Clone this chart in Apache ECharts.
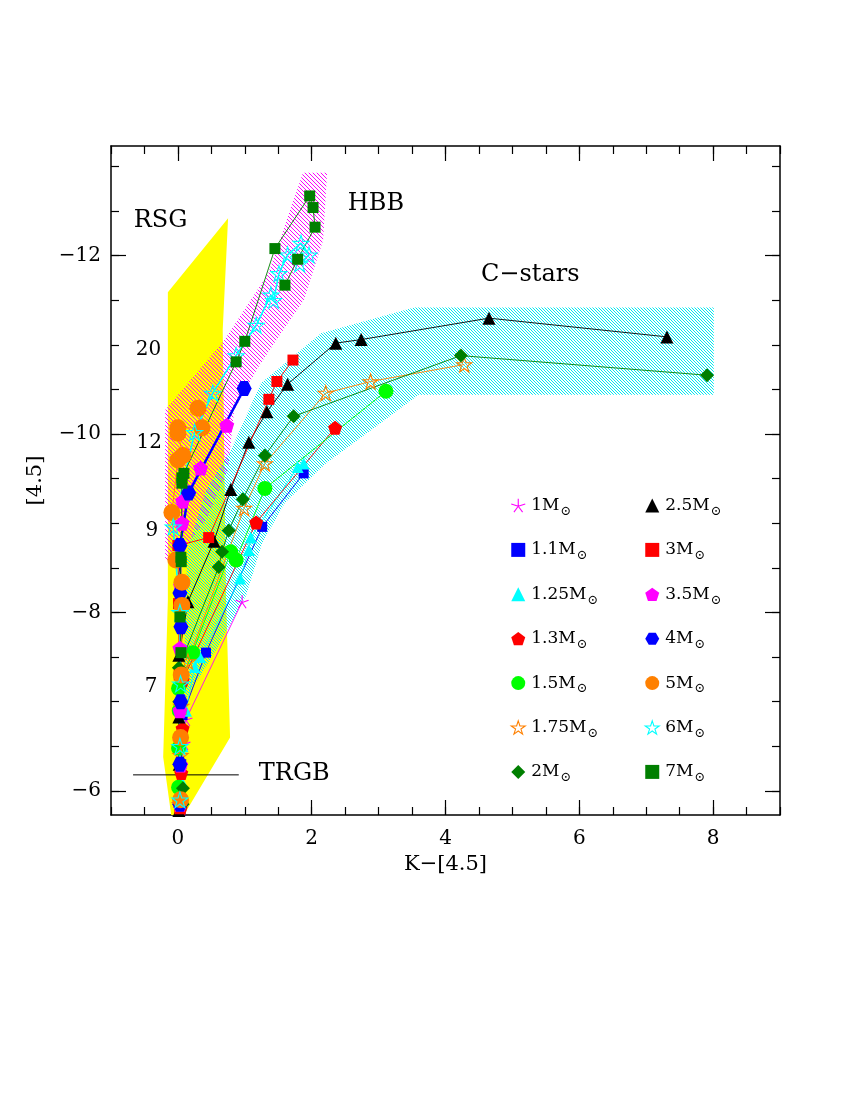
<!DOCTYPE html>
<html>
<head>
<meta charset="utf-8">
<title>[4.5] vs K-[4.5]</title>
<script src="https://cdn.jsdelivr.net/npm/echarts@6.0.0/dist/echarts.min.js"></script>
<style>
  html, body { margin: 0; background: #fff; }
  #chart { width: 850px; height: 1100px; }
</style>
</head>
<body>
<div id="chart"></div>
<script>
// model tracks, each point is [K-[4.5], [4.5]]
const track1 = [[0.03, -5.8], [0.05, -6.2], [0.09, -6.53], [0.12, -6.8], [0.96, -8.12]]
const track11 = [[0.04, -5.78], [0.05, -6.3], [0.07, -6.85], [0.42, -7.55], [1.26, -8.96], [1.88, -9.56]]
const track125 = [[0.05, -5.85], [0.06, -6.1], [0.07, -6.5], [0.12, -6.9], [0.25, -7.39], [0.33, -7.5], [0.93, -8.38], [1.06, -8.7], [1.09, -8.84], [1.79, -9.63], [1.88, -9.67]]
const track13 = [[0.04, -5.8], [0.05, -6.2], [0.07, -6.7], [0.07, -7.24], [1.17, -9.01], [2.35, -10.07]]
const track15 = [[0.01, -6.04], [0.01, -6.48], [0.02, -6.9], [0.01, -7.15], [0.22, -7.55], [0.79, -8.68], [0.87, -8.59], [1.3, -9.39], [3.11, -10.48]]
const track175 = [[0.03, -5.85], [0.04, -6.4], [0.05, -6.95], [0.15, -7.45], [0.99, -9.17], [1.3, -9.67], [2.21, -10.46], [2.88, -10.59], [4.28, -10.78]]
const track2 = [[0.07, -5.85], [0.075, -6.03], [0.03, -6.6], [0.02, -7.0], [0.015, -7.38], [0.61, -8.51], [0.66, -8.68], [0.76, -8.92], [0.97, -9.27], [1.3, -9.76], [1.73, -10.2], [4.23, -10.88], [7.91, -10.66]]
const track25 = [[0.015, -5.78], [0.02, -6.3], [0.015, -6.83], [0.015, -7.52], [0.15, -8.12], [0.54, -8.8], [0.79, -9.38], [1.06, -9.91], [1.33, -10.25], [1.64, -10.56], [2.36, -11.02], [2.74, -11.06], [4.65, -11.3], [7.31, -11.09]]
const track3 = [[0.03, -5.8], [0.03, -6.6], [0.02, -7.3], [0.01, -8.1], [0.0, -8.75], [0.46, -8.84], [1.36, -10.39], [1.48, -10.59], [1.72, -10.83]]
const track35 = [[0.03, -5.85], [0.04, -6.29], [0.03, -6.9], [0.03, -7.6], [0.04, -8.3], [0.06, -9.0], [0.07, -9.25], [0.34, -9.62], [0.73, -10.1]]
const track4 = [[0.03, -5.85], [0.03, -6.3], [0.04, -7.0], [0.045, -7.84], [0.03, -8.22], [0.03, -8.75], [0.16, -9.34], [0.99, -10.51]]
const track5 = [[0.04, -5.9], [0.04, -6.6], [0.05, -7.3], [0.06, -8.08], [0.06, -8.34], [-0.03, -8.59], [-0.09, -9.12], [0.0, -9.71], [0.075, -9.76], [0.0, -10.01], [0.0, -10.07], [0.36, -10.07], [0.3, -10.29]]
const track6 = [[0.03, -5.9], [0.03, -6.5], [0.04, -7.2], [0.03, -8.0], [-0.07, -8.96], [0.25, -10.02], [0.52, -10.46], [0.87, -10.88], [1.17, -11.22], [1.39, -11.56], [1.43, -11.5], [1.51, -11.8], [1.64, -12.01], [1.84, -12.14], [1.96, -12.01], [1.82, -11.91]]
const track7 = [[0.045, -7.55], [0.03, -7.95], [0.045, -8.62], [0.05, -8.57], [0.06, -9.45], [0.06, -9.51], [0.09, -9.56], [0.87, -10.81], [1.0, -11.04], [1.45, -12.08], [1.97, -12.67], [2.02, -12.54], [2.05, -12.32], [1.79, -11.96], [1.6, -11.67]]

const leftLegend = ['1', '1.1', '1.25', '1.3', '1.5', '1.75', '2']
const rightLegend = ['2.5', '3', '3.5', '4', '5', '6', '7']

// shaded regions (polygon vertices in data units)
const rsgRegion = [[-0.15, -11.59], [0.75, -12.42], [0.67, -11.17], [0.72, -8.14], [0.78, -6.6], [0.09, -5.73], [-0.1, -5.73], [-0.22, -6.38], [-0.15, -8.14]]
const hbbRegion = [[1.87, -12.93], [2.23, -12.93], [2.17, -12.17], [1.88, -11.5], [1.54, -11.13], [1.2, -10.75], [0.84, -10.27], [0.75, -9.6], [0.42, -9.04], [-0.03, -8.59], [-0.19, -8.59], [-0.19, -10.27], [0.69, -11.05], [1.35, -11.8]]
const cstarRegion = [[3.53, -11.42], [8.01, -11.42], [8.01, -10.44], [3.6, -10.44], [2.88, -10.04], [2.21, -9.67], [1.6, -9.23], [1.26, -8.78], [1.02, -8.19], [0.57, -7.58], [0.15, -7.07], [0.08, -7.0], [0.11, -8.0], [0.14, -8.7], [0.42, -9.37], [0.79, -9.82], [1.24, -10.57], [2.14, -11.13]]
const trgbLine = [[-0.67, -6.18], [0.91, -6.18]]

const notes = [[-0.66, -12.39, 'RSG'], [2.54, -12.58, 'HBB'], [4.53, -11.79, 'C\u2212stars'], [-0.44, -10.95, '20'], [-0.43, -9.9, '12'], [-0.39, -8.92, '9'], [-0.4, -7.17, '7'], [1.21, -6.19, 'TRGB']]

const xMajor = [0, 2, 4, 6, 8]
const yMajor = [-12, -10, -8, -6]

const FONT = 'DejaVu Serif'
const STAR = 'path://M0,-10L2.25,-3.09L9.51,-3.09L3.63,1.18L5.88,8.09L0,3.82L-5.88,8.09L-3.63,1.18L-9.51,-3.09L-2.25,-3.09Z'
const PENTAGON = 'path://M0,-10L9.51,-3.09L5.88,8.09L-5.88,8.09L-9.51,-3.09Z'
const HEXAGON = 'path://M-10,0L-5,-8.66L5,-8.66L10,0L5,8.66L-5,8.66Z'
const ASTERISK = 'path://M0,0L0,-10M0,0L9.51,-3.09M0,0L5.88,8.09M0,0L-5.88,8.09M0,0L-9.51,-3.09'

const look = {
  '1': { data: track1, symbol: ASTERISK, size: 13, color: '#ff00ff', open: true },
  '1.1': { data: track11, symbol: 'rect', size: 10, color: '#0000ff' },
  '1.25': { data: track125, symbol: 'triangle', size: 12, color: '#00ffff' },
  '1.3': { data: track13, symbol: PENTAGON, size: 14, color: '#ff0000' },
  '1.5': { data: track15, symbol: 'circle', size: 15, color: '#00ff00' },
  '1.75': { data: track175, symbol: STAR, size: 15, color: '#ff8000', open: true },
  '2': { data: track2, symbol: 'diamond', size: 14, color: '#007f00' },
  '2.5': { data: track25, symbol: 'triangle', size: 13, color: '#000000' },
  '3': { data: track3, symbol: 'rect', size: 11, color: '#ff0000' },
  '3.5': { data: track35, symbol: PENTAGON, size: 15, color: '#ff00ff' },
  '4': { data: track4, symbol: HEXAGON, size: 15, color: '#0000ff', width: 2.5 },
  '5': { data: track5, symbol: 'circle', size: 17, color: '#ff8000' },
  '6': { data: track6, symbol: STAR, size: 16, color: '#00ffff', open: true, width: 1.6 },
  '7': { data: track7, symbol: 'rect', size: 11, color: '#007f00' },
}

// diagonal hatch tile used as a pattern fill
function hatch(color, step) {
  const c = document.createElement('canvas')
  c.width = c.height = step
  const g = c.getContext('2d')
  g.fillStyle = color
  for (let i = 0; i < step; i++) g.fillRect(i, i, 1, 1)
  return { image: c, repeat: 'repeat' }
}

const pointStyle = (s) => s.open
  ? { color: 'rgba(255,255,255,0)', borderColor: s.color, borderWidth: 1.1 }
  : { color: s.color, borderWidth: 0 }

const regionSeries = (points, fill, z) => ({
  type: 'custom',
  silent: true,
  z,
  data: [0],
  renderItem: (params, api) => ({
    type: 'polygon',
    shape: { points: points.map((p) => api.coord(p)) },
    style: { fill },
  }),
})

const trackSeries = (name) => {
  const s = look[name]
  return {
    name,
    type: 'line',
    data: s.data,
    z: 10,
    symbol: s.symbol,
    symbolSize: s.size,
    showAllSymbol: true,
    lineStyle: { color: s.color, width: s.width || 0.9 },
    itemStyle: pointStyle(s),
    emphasis: { disabled: true },
  }
}

const legendBlock = (names, left) => ({
  data: names.map((n) => ({ name: n, icon: look[n].symbol, itemStyle: pointStyle(look[n]) })),
  orient: 'vertical',
  left,
  top: 488,
  itemWidth: 14,
  itemHeight: 14,
  itemGap: 19.4,
  selectedMode: false,
  formatter: (n) => `{a|${n}M}{b|\u2299}`,
  textStyle: {
    padding: [0, 0, 0, 1],
    rich: {
      a: { fontFamily: FONT, fontSize: 17, color: '#000', lineHeight: 20, verticalAlign: 'middle' },
      b: { fontFamily: FONT, fontSize: 13, color: '#000', lineHeight: 12, padding: [12, 0, 0, 1], verticalAlign: 'middle' },
    },
  },
})

const halfSteps = (lo, hi) => {
  const out = []
  for (let v = lo; v <= hi + 1e-9; v += 0.5) out.push(v)
  return out
}

const axisBase = (major, len, values, labels, extra) => Object.assign({
  type: 'value',
  axisLine: { show: major, onZero: false, lineStyle: { color: '#000', width: 1.5 } },
  axisTick: { show: true, inside: true, length: len, customValues: values, lineStyle: { color: '#000', width: 1.2 } },
  axisLabel: labels || { show: false },
  splitLine: { show: false },
}, extra)

const xLabel = { customValues: xMajor, color: '#000', fontFamily: FONT, fontSize: 20, margin: 14 }
const yLabel = { customValues: yMajor, color: '#000', fontFamily: FONT, fontSize: 20, margin: 10,
  formatter: (v) => (v < 0 ? '\u2212' : '') + Math.abs(v) }
const xr = { min: -1, max: 9 }
const yr = { min: -13.23, max: -5.73, inverse: true }

const option = {
  animation: false,
  backgroundColor: '#fff',
  grid: { left: 111, right: 70, top: 146, bottom: 285 },
  xAxis: [
    axisBase(true, 15, xMajor, xLabel, Object.assign({ position: 'bottom', name: 'K\u2212[4.5]', nameLocation: 'middle', nameGap: 36,
      nameTextStyle: { fontFamily: FONT, fontSize: 21, color: '#000' } }, xr)),
    axisBase(false, 8, halfSteps(-1, 9), null, Object.assign({ position: 'bottom' }, xr)),
    axisBase(true, 15, xMajor, null, Object.assign({ position: 'top' }, xr)),
    axisBase(false, 8, halfSteps(-1, 9), null, Object.assign({ position: 'top' }, xr)),
  ],
  yAxis: [
    axisBase(true, 15, yMajor, yLabel, Object.assign({ position: 'left', name: '[4.5]', nameLocation: 'middle', nameGap: 65, nameRotate: 90,
      nameTextStyle: { fontFamily: FONT, fontSize: 21, color: '#000' } }, yr)),
    axisBase(false, 8, halfSteps(-13, -6), null, Object.assign({ position: 'left' }, yr)),
    axisBase(true, 15, yMajor, null, Object.assign({ position: 'right' }, yr)),
    axisBase(false, 8, halfSteps(-13, -6), null, Object.assign({ position: 'right' }, yr)),
  ],
  legend: [legendBlock(leftLegend, 505.7), legendBlock(rightLegend, 639.7)],
  series: [
    regionSeries(rsgRegion, '#ffff00', 1),
    regionSeries(hbbRegion, hatch('#ff00ff', 4), 2),
    regionSeries(cstarRegion, hatch('#00e8f0', 3), 3),
    {
      type: 'line', data: trgbLine, z: 4, symbol: 'none', silent: true,
      lineStyle: { color: '#000', width: 1 },
    },
    ...leftLegend.concat(rightLegend).map(trackSeries),
    {
      type: 'custom',
      silent: true,
      z: 20,
      data: notes.map((n) => [n[0], n[1]]),
      renderItem: (params, api) => {
        const n = notes[params.dataIndex]
        const p = api.coord([n[0], n[1]])
        const isNum = /^\d+$/.test(n[2])
        return {
          type: 'text',
          x: p[0],
          y: p[1],
          style: {
            text: n[2],
            fill: '#000',
            font: `${isNum ? 20 : 24}px "${FONT}"`,
            align: isNum ? 'center' : 'left',
            verticalAlign: 'middle',
          },
        }
      },
    },
  ],
}

const chart = echarts.init(document.getElementById('chart'), null, { renderer: 'canvas' })
chart.setOption(option)
</script>
</body>
</html>
